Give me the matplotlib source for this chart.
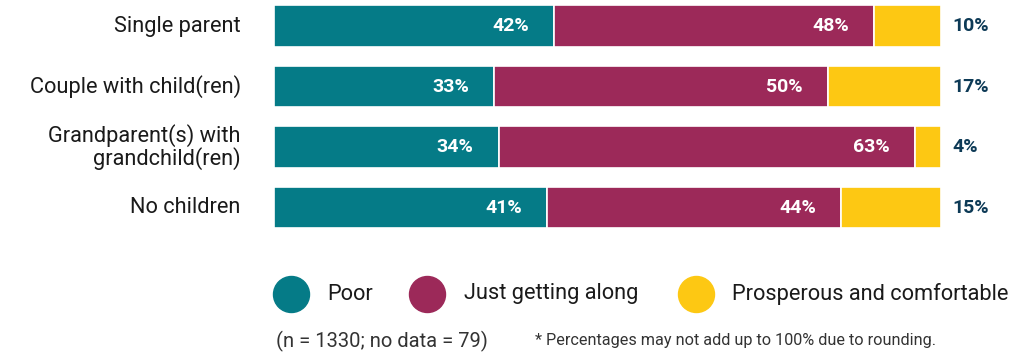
import numpy as np
import matplotlib
matplotlib.use("Agg")
import matplotlib.pyplot as plt

# data
groups = ["Single parent", "Couple with child(ren)",
          "Grandparent(s) with\ngrandchild(ren)", "No children"]
series = ["Poor", "Just getting along", "Prosperous and comfortable"]
poor = [42, 33, 34, 41]
just = [48, 50, 63, 44]
prosperous = [10, 17, 4, 15]
colors = ["#057b87", "#9c2959", "#fdc813"]
note_n = "(n = 1330; no data = 79)"
note_round = "* Percentages may not add up to 100% due to rounding."

plt.rcParams['font.family'] = ['Roboto', 'DejaVu Sans']

W, H = 1025, 356
fig = plt.figure(figsize=(W / 100, H / 100), dpi=100)

# bars axes, placed in pixel terms
ax_top, ax_bot = 0.0, 237.75
ax = fig.add_axes([274 / W, 1 - ax_bot / H, (941 - 274) / W, (ax_bot - ax_top) / H])
ax.set_xlim(0, 100)
ax.set_ylim(3.5, -0.43)
ax.axis("off")

vals = np.array([poor, just, prosperous], dtype=float)
totals = vals.sum(axis=0)
shares = vals / totals * 100  # rows that round to 101 still fill the bar
y = np.arange(len(groups))

left = np.zeros(len(groups))
for i, name in enumerate(series):
    ax.barh(y, shares[i], left=left, height=0.69, color=colors[i],
            edgecolor="white", linewidth=1.2)
    for j in range(len(groups)):
        txt = f"{int(vals[i, j])}%"
        if i < 2:
            ax.annotate(txt, (left[j] + shares[i, j], y[j]), xytext=(-18, 0),
                        textcoords="offset points", ha="right", va="center",
                        color="white", fontsize=14, fontweight="bold")
        else:
            ax.annotate(txt, (100, y[j]), xytext=(8, 0),
                        textcoords="offset points", ha="left", va="center",
                        color="#0d3a56", fontsize=14, fontweight="bold")
    left += shares[i]

for j, g in enumerate(groups):
    ax.annotate(g, (0, y[j]), xytext=(-24, 0), textcoords="offset points",
                ha="right", va="center", color="#1a1a1a", fontsize=15.7,
                linespacing=1.0)

# legend (manual)
leg = fig.add_axes([0, 0, 1, 1])
leg.set_xlim(0, W)
leg.set_ylim(H, 0)
leg.axis("off")
leg_x = [290.5, 427, 696]
for xc, name, c in zip(leg_x, series, colors):
    leg.scatter([xc], [294], s=(36 * 0.72) ** 2, color=c, zorder=3)
    leg.text(xc + 36.5, 294, name, ha="left", va="center", fontsize=15.7,
             color="#1a1a1a")

leg.text(276, 341, note_n, ha="left", va="center", fontsize=14.5,
         color="#333333")
leg.text(535, 341, note_round, ha="left", va="center", fontsize=11.7,
         color="#333333")

fig.savefig("out.png", dpi=100)
